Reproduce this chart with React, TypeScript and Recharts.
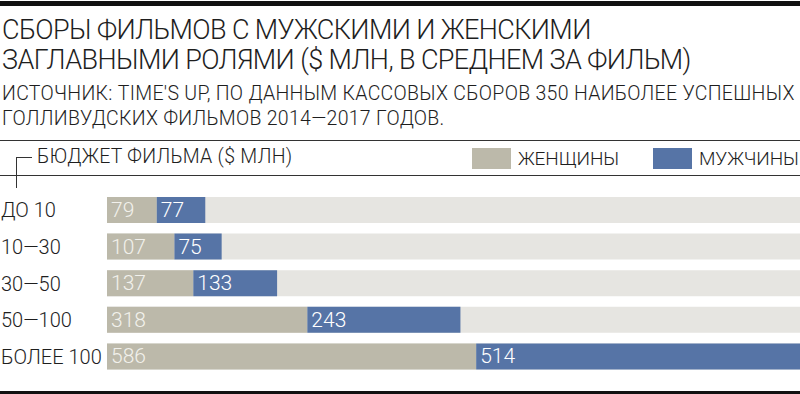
import { BarChart, Bar, XAxis, YAxis, LabelList } from "recharts";

const budgets = ["ДО 10", "10—30", "30—50", "50—100", "БОЛЕЕ 100"];
const women = [79, 107, 137, 318, 586];
const men = [77, 75, 133, 243, 514];
const seriesNames = ["ЖЕНЩИНЫ", "МУЖЧИНЫ"];
const seriesColors = ["#bcb9aa", "#5674a6"];

const FONT = "Roboto, 'Liberation Sans', Arial, sans-serif";

const data = budgets.map((b, i) => ({ budget: b, women: women[i], men: men[i] }));

function CategoryTick(props: any) {
  const { y, payload } = props;
  return (
    <text x={1} y={y} dominantBaseline="central" fontSize={20} fontWeight={300} fill="#1e1e1e" fontFamily={FONT}>
      {payload.value}
    </text>
  );
}

function ValueLabel(props: any) {
  const { x, y, height, value, fill } = props;
  return (
    <text
      x={Number(x) + 4}
      y={Number(y) + Number(height) / 2}
      dominantBaseline="central"
      fontSize={21}
      fontWeight={300}
      fill={fill}
      fontFamily={FONT}
    >
      {value}
    </text>
  );
}

export default function App() {
  return (
    <div
      style={{
        position: "absolute",
        left: 0,
        top: 0,
        width: 800,
        height: 394,
        background: "#fff",
        fontFamily: FONT,
        fontWeight: 300,
        color: "#1e1e1e",
        overflow: "hidden",
      }}
    >
      <div style={{ position: "absolute", left: 0, top: 1, width: 800, height: 5, background: "#111" }} />
      <div style={{ position: "absolute", left: 2, top: 15, fontSize: 27, letterSpacing: -0.6, lineHeight: "30px", whiteSpace: "nowrap" }}>
        СБОРЫ ФИЛЬМОВ С МУЖСКИМИ И ЖЕНСКИМИ
        <br />
        ЗАГЛАВНЫМИ РОЛЯМИ ($ МЛН, В СРЕДНЕМ ЗА ФИЛЬМ)
      </div>
      <div style={{ position: "absolute", left: 2, top: 81, fontSize: 19.5, letterSpacing: 0.3, lineHeight: "25px", whiteSpace: "nowrap" }}>
        ИСТОЧНИК: TIME'S UP, ПО ДАННЫМ КАССОВЫХ СБОРОВ 350 НАИБОЛЕЕ УСПЕШНЫХ
        <br />
        ГОЛЛИВУДСКИХ ФИЛЬМОВ 2014—2017 ГОДОВ.
      </div>
      <div style={{ position: "absolute", left: 0, top: 140, width: 800, height: 1, background: "#333" }} />
      <div style={{ position: "absolute", left: 0, top: 175, width: 800, height: 1, background: "#333" }} />
      <div style={{ position: "absolute", left: 16, top: 157, width: 16, height: 1, background: "#333" }} />
      <div style={{ position: "absolute", left: 16, top: 157, width: 1, height: 31, background: "#333" }} />
      <div style={{ position: "absolute", left: 37, top: 146, fontSize: 19.5, letterSpacing: 0.3, lineHeight: "22px", whiteSpace: "nowrap" }}>
        БЮДЖЕТ ФИЛЬМА ($ МЛН)
      </div>
      {seriesNames.map((name, i) => (
        <div key={name} style={{ position: "absolute", left: i === 0 ? 472 : 653, top: 147, display: "flex", alignItems: "center", whiteSpace: "nowrap" }}>
          <div style={{ width: 39, height: 21, background: seriesColors[i], marginRight: 7 }} />
          <span style={{ fontSize: 19, letterSpacing: -0.1 }}>{name}</span>
        </div>
      ))}
      <div style={{ position: "absolute", left: 0, top: 391, width: 800, height: 3, background: "#111" }} />
      <div style={{ position: "absolute", left: 0, top: 0 }}>
        <BarChart
          width={800}
          height={394}
          data={data}
          layout="vertical"
          margin={{ top: 192, right: 0, bottom: 19, left: 0 }}
          barSize={26}
        >
          <XAxis type="number" domain={[0, 1100]} hide />
          <YAxis
            type="category"
            dataKey="budget"
            width={107}
            axisLine={false}
            tickLine={false}
            tick={<CategoryTick />}
          />
          <Bar dataKey="women" stackId="a" fill={seriesColors[0]} background={{ fill: "#e6e5e1" }} isAnimationActive={false}>
            <LabelList dataKey="women" content={(p: any) => <ValueLabel {...p} fill="#f2f1ec" />} />
          </Bar>
          <Bar dataKey="men" stackId="a" fill={seriesColors[1]} isAnimationActive={false}>
            <LabelList dataKey="men" content={(p: any) => <ValueLabel {...p} fill="#ffffff" />} />
          </Bar>
        </BarChart>
      </div>
    </div>
  );
}
